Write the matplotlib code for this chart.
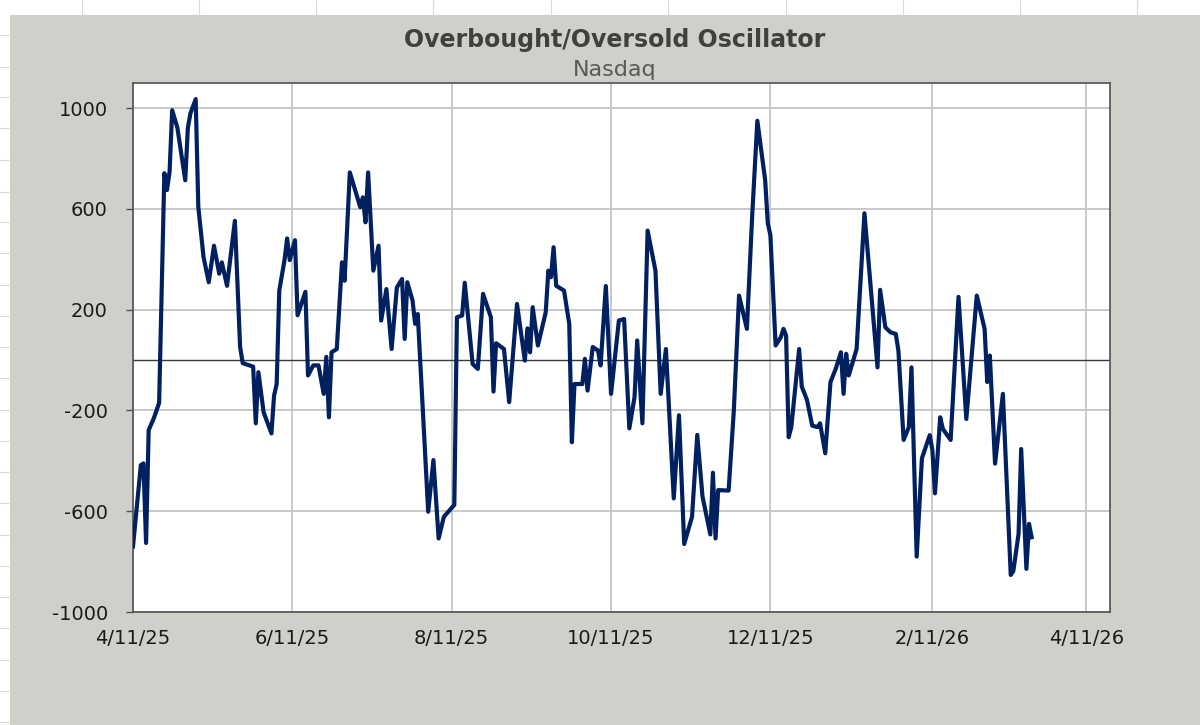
import datetime as dt
import numpy as np
import pandas as pd
import matplotlib
matplotlib.use('Agg')
import matplotlib.pyplot as plt
import matplotlib.dates as mdates
from matplotlib.patches import Rectangle
from matplotlib.lines import Line2D

plt.rcParams['axes.unicode_minus'] = False

# Oscillator readings
dates_2025 = [
    '04-11', '04-14', '04-15', '04-16', '04-17', '04-19', '04-21', '04-23', '04-24', '04-25',
    '04-26', '04-28', '05-01', '05-02', '05-03', '05-05', '05-06', '05-08', '05-10', '05-12',
    '05-14', '05-15', '05-17', '05-20', '05-22', '05-23', '05-27', '05-28', '05-29', '05-31',
    '06-03', '06-04', '06-05', '06-06', '06-08', '06-09', '06-10', '06-12', '06-13', '06-16',
    '06-17', '06-19', '06-21', '06-23', '06-24', '06-25', '06-26', '06-28', '06-30', '07-01',
    '07-03', '07-07', '07-08', '07-09', '07-10', '07-12', '07-14', '07-15', '07-17', '07-19',
    '07-21', '07-23', '07-24', '07-25', '07-27', '07-28', '07-29', '08-02', '08-04', '08-06',
    '08-08', '08-12', '08-13', '08-15', '08-16', '08-19', '08-21', '08-23', '08-26', '08-27',
    '08-28', '08-31', '09-02', '09-05', '09-08', '09-09', '09-10', '09-11', '09-13', '09-16',
    '09-17', '09-18', '09-19', '09-20', '09-23', '09-25', '09-26', '09-27', '09-30', '10-01',
    '10-02', '10-04', '10-06', '10-07', '10-09', '10-11', '10-14', '10-16', '10-18', '10-20',
    '10-21', '10-23', '10-25', '10-28', '10-30', '11-01', '11-04', '11-06', '11-08', '11-11',
    '11-13', '11-15', '11-18', '11-19', '11-20', '11-21', '11-25', '11-27', '11-29', '12-02',
    '12-04', '12-06', '12-09', '12-10', '12-11', '12-13', '12-15', '12-16', '12-17', '12-18',
    '12-19', '12-22', '12-23', '12-25', '12-27', '12-29', '12-30',
]
values_2025 = [
    -740, -417, -410, -726, -278, -230, -170, 742, 675, 747,
    992, 922, 714, 922, 980, 1036, 608, 409, 309, 454,
    343, 388, 295, 553, 52, -12, -26, -251, -48, -207,
    -291, -141, -95, 276, 397, 483, 397, 476, 178, 271,
    -61, -21, -21, -134, 13, -227, 31, 44, 388, 315,
    745, 607, 646, 547, 745, 355, 454, 157, 282, 44,
    288, 322, 84, 309, 237, 144, 183, -602, -397, -708,
    -622, -575, 170, 177, 307, -15, -35, 263, 170, -125,
    67, 44, -167, 223, -2, 126, 31, 210, 58, 190,
    355, 329, 448, 295, 276, 144, -326, -95, -95, 5,
    -121, 52, 38, -21, 294, -134, 157, 163, -271, -146,
    78, -251, 514, 355, -134, 44, -549, -219, -730, -622,
    -297, -541, -692, -447, -708, -516, -518, -200, 256, 124,
    567, 950, 714, 543, 496, 58, 91, 124, 98, -306,
    -266, 44, -105, -158, -260, -266, -251,
]
dates_2026 = [
    '01-01', '01-03', '01-05', '01-07', '01-08', '01-09', '01-10', '01-13', '01-16', '01-21',
    '01-22', '01-24', '01-26', '01-28', '01-29', '01-31', '02-02', '02-03', '02-05', '02-07',
    '02-10', '02-11', '02-12', '02-14', '02-15', '02-18', '02-21', '02-24', '02-28', '03-03',
    '03-04', '03-05', '03-07', '03-10', '03-13', '03-14', '03-16', '03-17', '03-19', '03-20',
    '03-21',
]
values_2026 = [
    -370, -87, -35, 31, -134, 25, -61, 44, 583, -29,
    279, 130, 110, 104, 38, -317, -266, -29, -780, -390,
    -298, -357, -529, -227, -273, -317, 251, -234, 256, 124,
    -87, 18, -411, -134, -853, -837, -690, -353, -829, -650,
    -703,
]

dates = pd.to_datetime(['2025-' + d for d in dates_2025] + ['2026-' + d for d in dates_2026])
values = np.array(values_2025 + values_2026)

W, H = 1200, 725
bg = '#CDD1CA'
navy = '#002060'

fig = plt.figure(figsize=(W / 100, H / 100), dpi=100, facecolor='white')

# spreadsheet cells behind the chart object
for x in [82, 199, 316, 433, 551, 668, 786, 903, 1020, 1137]:
    fig.add_artist(Line2D([x / W, x / W], [1 - 15 / H, 1], color='#DADADA', lw=0.8))
for y in [35, 67, 97, 128, 160, 192, 222, 253, 285, 316, 347, 378, 410, 441, 472, 503,
          535, 566, 597, 628, 660, 691, 722]:
    fig.add_artist(Line2D([0, 10 / W], [1 - y / H, 1 - y / H], color='#DADADA', lw=0.8))
fig.add_artist(Rectangle((10 / W, 0), 1 - 10 / W, 1 - 15 / H, transform=fig.transFigure,
                         facecolor=bg, edgecolor='none', zorder=0))

ax = fig.add_axes([133 / W, 1 - 612 / H, (1110 - 133) / W, (612 - 83) / H])
ax.set_facecolor('white')

ax.plot(dates, values, color=navy, lw=3.0, solid_joinstyle='round', zorder=3)
ax.axhline(0, color='#3A3A3A', lw=1.0, zorder=2)

ax.set_ylim(-1000, 1100)
ax.set_yticks(np.arange(-1000, 1001, 400))
ax.set_xlim(dt.datetime(2025, 4, 11), dt.datetime(2026, 4, 20))
ax.xaxis.set_major_locator(mdates.MonthLocator(bymonth=[2, 4, 6, 8, 10, 12], bymonthday=11))


def fmt_date(x, pos=None):
    d = mdates.num2date(x)
    return f'{d.month}/{d.day}/{d.strftime("%y")}'


ax.xaxis.set_major_formatter(plt.FuncFormatter(fmt_date))
ax.grid(True, color='#C8C8C8', lw=1.4)
ax.set_axisbelow(True)

for s in ax.spines.values():
    s.set_color('#505050')
    s.set_linewidth(1.2)
ax.tick_params(axis='y', direction='out', length=5, width=1, color='#505050',
               labelsize=14, labelcolor='#1A1A1A', pad=13)
ax.tick_params(axis='x', length=0, labelsize=14, labelcolor='#1A1A1A', pad=12)

fig.text(615 / W, 1 - 40 / H, 'Overbought/Oversold Oscillator', ha='center', va='center',
         fontsize=17, fontweight='bold', color='#404040')
fig.text(615 / W, 1 - 70 / H, 'Nasdaq', ha='center', va='center',
         fontsize=16, color='#595959')

fig.savefig('out.png', dpi=100, facecolor=fig.get_facecolor())
